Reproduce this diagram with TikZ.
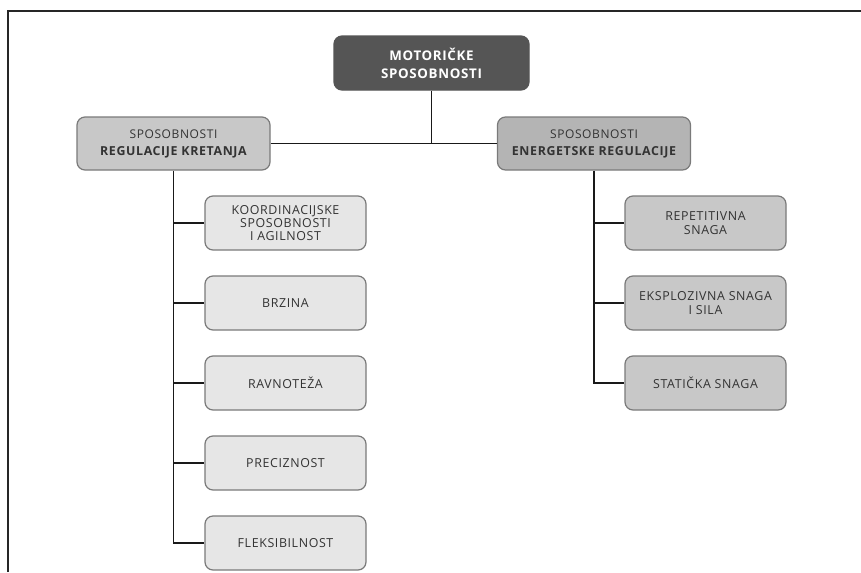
\documentclass[tikz,border=0pt]{standalone}
\usepackage{fontspec}
\setmainfont{Open Sans}[LetterSpace=5]
\definecolor{topgray}{HTML}{555555}
\definecolor{midgray}{HTML}{C8C8C8}
\definecolor{darkmid}{HTML}{B4B4B4}
\definecolor{lightgray}{HTML}{E6E6E6}
\definecolor{edgegray}{HTML}{7A7A7A}
\begin{document}
\begin{tikzpicture}[x=0.75pt, y=-0.75pt,
    box/.style={draw=edgegray, line width=0.9pt, rectangle, rounded corners=6pt, align=center,
        font=\fontsize{9.3}{10}\selectfont, text=black!80},
    topbox/.style={box, minimum width=146.25pt, minimum height=40.5pt, fill=topgray, text=white,
        draw=topgray, font=\fontsize{10}{13.5}\selectfont\bfseries},
    groupbox/.style={box, minimum width=144.75pt, minimum height=39.75pt, font=\fontsize{9.3}{12.75}\selectfont},
    itembox/.style={box, minimum width=120.75pt, minimum height=40.5pt},
    link/.style={line width=1.3pt, black!90}]

    \useasboundingbox (0,0) rectangle (861,572);

    % Draw the frame
    \coordinate (corner) at (8,11);
    \coordinate (frameR) at (861,11);
    \coordinate (frameB) at (8,572);
    \draw[line width=1pt, black!85] (frameB) -- (corner) -- (frameR);

    % Draw the top node
    \node[topbox] (motor) at (431.5, 63) {MOTORIČKE\\SPOSOBNOSTI};

    % Draw the two groups
    \node[groupbox, fill=midgray] (kretanje) at (173.5, 143.5) {{\fontsize{9}{12.75}\selectfont SPOSOBNOSTI}\\\bfseries REGULACIJE KRETANJA};
    \node[groupbox, fill=darkmid] (energija) at (594, 143.5) {{\fontsize{9}{12.75}\selectfont SPOSOBNOSTI}\\\bfseries ENERGETSKE REGULACIJE};

    % Draw the left items
    \node[itembox, fill=lightgray] (koord) at (285.5, 223) {KOORDINACIJSKE\\SPOSOBNOSTI\\I AGILNOST};
    \node[itembox, fill=lightgray] (brzina) at (285.5, 303) {BRZINA};
    \node[itembox, fill=lightgray] (ravno) at (285.5, 383) {RAVNOTEŽA};
    \node[itembox, fill=lightgray] (precz) at (285.5, 463) {PRECIZNOST};
    \node[itembox, fill=lightgray] (fleks) at (285.5, 543) {FLEKSIBILNOST};

    % Draw the right items
    \node[itembox, fill=midgray] (repet) at (705.5, 223) {REPETITIVNA\\SNAGA};
    \node[itembox, fill=midgray] (ekspl) at (705.5, 303) {EKSPLOZIVNA SNAGA\\I SILA};
    \node[itembox, fill=midgray] (stat) at (705.5, 383) {STATIČKA SNAGA};

    % Draw connections
    \draw[link] (motor.south) -- (motor.south |- kretanje.east);
    \draw[link] (kretanje.east) -- (energija.west);
    \draw[link] (kretanje.south) -- (kretanje.south |- fleks.west) -- (fleks.west);
    \foreach \item in {koord, brzina, ravno, precz}
        \draw[link] (kretanje.south |- \item.west) -- (\item.west);
    \draw[link] (energija.south) -- (energija.south |- stat.west) -- (stat.west);
    \foreach \item in {repet, ekspl}
        \draw[link] (energija.south |- \item.west) -- (\item.west);

\end{tikzpicture}
\end{document}
